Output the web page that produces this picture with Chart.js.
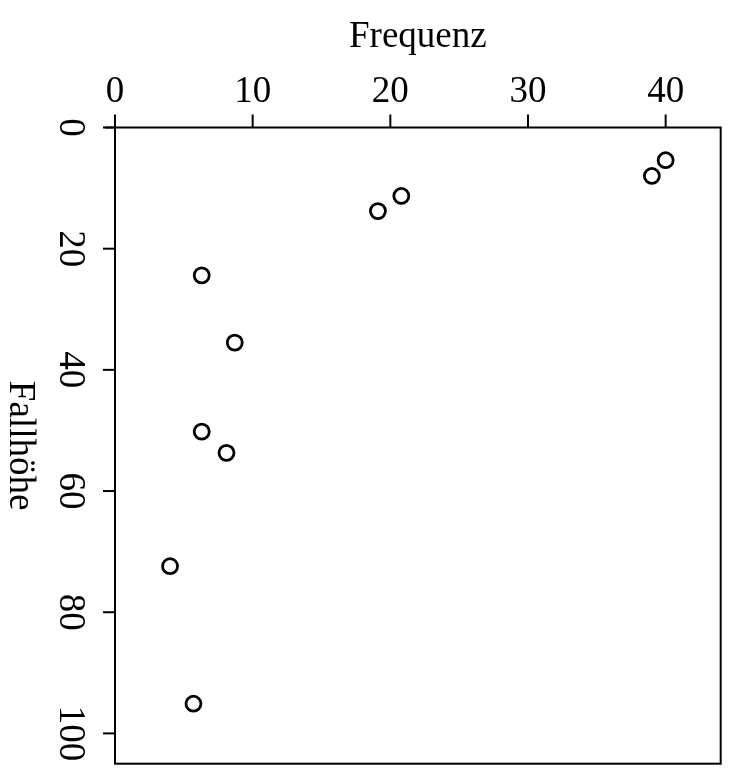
<!DOCTYPE html>
<html>
<head>
<meta charset="utf-8">
<script src="https://cdn.jsdelivr.net/npm/chart.js@4"></script>
<style>
  body { margin: 0; background: #fff; }
  canvas { display: block; }
</style>
</head>
<body>
<canvas id="chart" width="731" height="774"></canvas>
<script>
// Data
const frequenz = [40.0, 39.0, 20.8, 19.1, 6.3, 8.7, 6.3, 8.1, 4.0, 5.7];
const fallhoehe = [5.4, 8.0, 11.3, 13.8, 24.4, 35.5, 50.2, 53.7, 72.4, 95.1];
const xTicks = [0, 10, 20, 30, 40];
const yTicks = [0, 20, 40, 60, 80, 100];
const xTitle = "Frequenz";
const yTitle = "Fallhöhe";

const FONT = "37px 'Liberation Serif', 'Times New Roman', serif";

// Draws the R-style box, axis ticks and rotated labels from the chart's scales
const rAxes = {
    id: "rAxes",
    afterDraw(chart) {
        const ctx = chart.ctx;
        const area = chart.chartArea;
        const xs = chart.scales.x;
        const ys = chart.scales.y;
        ctx.save();
        ctx.strokeStyle = "#000";
        ctx.fillStyle = "#000";
        ctx.lineWidth = 2;

        // box
        ctx.strokeRect(area.left, area.top, area.right - area.left, area.bottom - area.top);

        // x axis (top)
        ctx.font = FONT;
        ctx.textAlign = "center";
        ctx.textBaseline = "alphabetic";
        xTicks.forEach(v => {
            let px = xs.getPixelForValue(v);
            ctx.beginPath();
            ctx.moveTo(px, area.top);
            ctx.lineTo(px, area.top - 13);
            ctx.stroke();
            ctx.fillText(String(v), px, area.top - 26);
        });
        ctx.beginPath();
        ctx.moveTo(area.left - 10, area.top);
        ctx.lineTo(area.left, area.top);
        ctx.stroke();
        ctx.fillText(xTitle, (area.left + area.right) / 2, 47);

        // y axis (left, reversed), labels rotated clockwise
        yTicks.forEach(v => {
            let py = ys.getPixelForValue(v);
            ctx.beginPath();
            ctx.moveTo(area.left, py);
            ctx.lineTo(area.left - 12, py);
            ctx.stroke();
            ctx.save();
            ctx.translate(60, py);
            ctx.rotate(Math.PI / 2);
            ctx.textAlign = "center";
            ctx.textBaseline = "alphabetic";
            ctx.fillText(String(v), 0, 0);
            ctx.restore();
        });
        ctx.save();
        ctx.translate(10, (area.top + area.bottom) / 2);
        ctx.rotate(Math.PI / 2);
        ctx.textAlign = "center";
        ctx.fillText(yTitle, 0, 0);
        ctx.restore();

        ctx.restore();
    }
};

let points = frequenz.map((f, i) => ({ x: f, y: fallhoehe[i] }));

new Chart(document.getElementById("chart"), {
    type: "scatter",
    data: {
        datasets: [{
            data: points,
            pointStyle: "circle",
            pointRadius: 7.5,
            pointHoverRadius: 7.5,
            pointBorderWidth: 2.8,
            pointBorderColor: "#000",
            pointBackgroundColor: "rgba(0,0,0,0)"
        }]
    },
    options: {
        responsive: false,
        animation: false,
        events: [],
        layout: { padding: { left: 115, right: 7, top: 127.5, bottom: 3 } },
        plugins: { legend: { display: false }, tooltip: { enabled: false } },
        scales: {
            x: { type: "linear", position: "top", min: 0, max: 44, display: false },
            y: { type: "linear", min: 0, max: 105, reverse: true, display: false }
        }
    },
    plugins: [rAxes]
});
</script>
</body>
</html>
